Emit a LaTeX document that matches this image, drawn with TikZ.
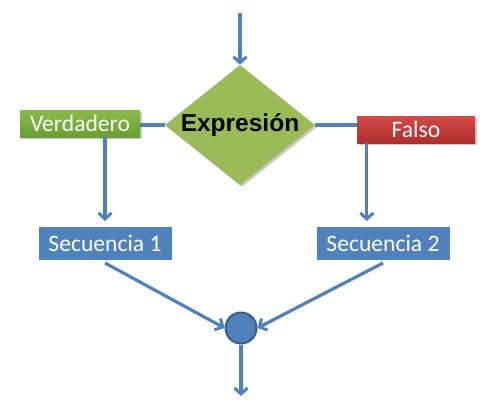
\documentclass[tikz,border=0pt]{standalone}
\usepackage{fontspec}
\setmainfont{Carlito}
\newfontfamily\arialfont{Liberation Sans}
\usetikzlibrary{shapes.geometric,arrows.meta,shadows}
\definecolor{lineblue}{HTML}{4F81BD}
\definecolor{boxblue}{HTML}{4F81BD}
\definecolor{circborder}{HTML}{385D8A}
\definecolor{dgreen}{HTML}{9BBB59}
\definecolor{vgtop}{HTML}{8ABB4C}
\definecolor{vgbot}{HTML}{6A9E30}
\definecolor{frtop}{HTML}{D44A47}
\definecolor{frbot}{HTML}{AD2E2C}
\tikzset{
  conn/.style={draw=lineblue, line width=3.2pt},
  arr/.style={conn, -{Straight Barb[length=6pt,width=13pt,line width=3pt]}},
  softshadow/.style={drop shadow={shadow xshift=2pt, shadow yshift=-2pt, opacity=0.35, fill=black!60}},
  labelbox/.style={rectangle, inner sep=0pt, text=white, font=\fontsize{23.6}{25}\selectfont, softshadow},
  seqbox/.style={rectangle, fill=boxblue, draw=white, line width=3.5pt, minimum width=136.5pt, minimum height=36.5pt, inner sep=0pt, text=white, font=\fontsize{23.6}{25}\selectfont, softshadow},
}
\begin{document}
\begin{tikzpicture}[x=1pt,y=-1pt]
\useasboundingbox (0,0) rectangle (502,407);
\coordinate (top) at (240,13);
\node[diamond, fill=dgreen, minimum width=150pt, minimum height=120pt, inner sep=0pt, softshadow] (d) at (240,125) {};
\node[font=\arialfont\bfseries\fontsize{24.5}{26}\selectfont, text=black, inner sep=0pt] (dt) at (240,125) {Expresión};
\node[labelbox, top color=vgtop, bottom color=vgbot, minimum width=120pt, minimum height=27pt] (v) at (80,123.5) {Verdadero};
\node[labelbox, top color=frtop, bottom color=frbot, minimum width=118pt, minimum height=27pt] (f) at (416,129.5) {Falso};
\node[seqbox] (s1) at (105,243) {Secuencia 1};
\node[seqbox] (s2) at (383,243) {Secuencia 2};
\node[circle, fill=boxblue, draw=circborder, line width=2pt, minimum size=31pt, inner sep=0pt] (c) at (241,328) {};
\coordinate (bot) at (241,396);
\draw[arr] (top) -- (d.north);
\draw[conn] (d.west) -- (d.west -| v.east);
\draw[conn] (d.east) -- (d.east -| f.west);
\draw[arr] (v.south -| s1.north) -- ([yshift=2pt]s1.north);
\draw[arr] ([xshift=10pt]f.south west) -- ([xshift=10pt,yshift=2pt]f.south west |- s2.north);
\draw[arr] (s1.south) -- (c.west);
\draw[arr] (s2.south) -- (c.east);
\draw[arr] (c.south) -- (bot);
\end{tikzpicture}
\end{document}
